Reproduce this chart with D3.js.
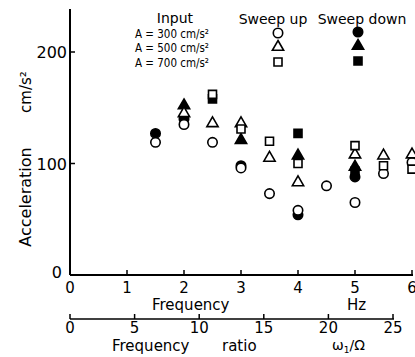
<!DOCTYPE html>
<html>
<head>
<meta charset="utf-8">
<script src="https://cdn.jsdelivr.net/npm/d3@7"></script>
<style>
  body { margin: 0; background: #fff; }
  svg { display: block; font-family: 'DejaVu Sans', sans-serif; }
</style>
</head>
<body>
<div id="chart"></div>
<script>
// frequency (Hz) and acceleration (cm/s2)
var up300 = [[1.5, 119], [2, 135], [2.5, 119], [3, 96], [3.5, 73], [4, 58], [4.5, 80], [5, 65], [5.5, 91], [6, 101]]
var up500 = [[2, 145], [2.5, 136], [3, 136], [3.5, 105], [4, 83], [5, 108], [5.5, 107], [6, 108]]
var up700 = [[2.5, 162], [3, 131], [3.5, 120], [4, 100], [5, 116], [5.5, 98], [6, 95]]
var down300 = [[1.5, 127], [2, 140], [3, 98], [4, 54], [5, 88]]
var down500 = [[2, 152], [3, 121], [4, 107], [5, 97]]
var down700 = [[2.5, 158], [4, 127], [5, 93]]

var freqTicks = [0, 1, 2, 3, 4, 5, 6]
var accTicks = [0, 100, 200]
var ratioTicks = [0, 5, 10, 15, 20, 25]
var inputLabels = ['A = 300 cm/s²', 'A = 500 cm/s²', 'A = 700 cm/s²']

var width = 415
var height = 357

var svg = d3
  .select('#chart')
  .append('svg')
  .attr('width', width)
  .attr('height', height)

var x = d3.scaleLinear().domain([0, 6]).range([70, 412])
var y = d3.scaleLinear().domain([0, 200]).range([275, 52])
var xr = d3.scaleLinear().domain([0, 25]).range([70, 393])

// axes
var axisColor = '#000'
svg
  .append('line')
  .attr('x1', x(0)).attr('x2', x(0))
  .attr('y1', y(0)).attr('y2', 9)
  .attr('stroke', axisColor).attr('stroke-width', 2)

svg
  .append('line')
  .attr('x1', x(0)).attr('x2', x(6) + 1)
  .attr('y1', y(0)).attr('y2', y(0))
  .attr('stroke', axisColor).attr('stroke-width', 2)

svg
  .selectAll('.ytick')
  .data(accTicks.slice(1))
  .enter()
  .append('line')
  .attr('class', 'ytick')
  .attr('x1', x(0) - 1).attr('x2', x(0) + 5)
  .attr('y1', function (d) { return y(d) })
  .attr('y2', function (d) { return y(d) })
  .attr('stroke', axisColor).attr('stroke-width', 1.5)

svg
  .selectAll('.ylab')
  .data(accTicks)
  .enter()
  .append('text')
  .attr('class', 'ylab')
  .attr('x', function (d) { return d === 0 ? 62 : 67 })
  .attr('y', function (d) { return d === 0 ? y(d) + 3 : y(d) + 6 })
  .attr('text-anchor', 'end')
  .style('font-size', '16px')
  .text(function (d) { return d })

svg
  .selectAll('.xtick')
  .data(freqTicks.slice(1))
  .enter()
  .append('line')
  .attr('class', 'xtick')
  .attr('x1', function (d) { return x(d) })
  .attr('x2', function (d) { return x(d) })
  .attr('y1', y(0)).attr('y2', y(0) - 5)
  .attr('stroke', axisColor).attr('stroke-width', 1.5)

svg
  .selectAll('.xlab')
  .data(freqTicks)
  .enter()
  .append('text')
  .attr('class', 'xlab')
  .attr('x', function (d) { return x(d) })
  .attr('y', 293)
  .attr('text-anchor', 'middle')
  .style('font-size', '15px')
  .text(function (d) { return d })

svg.append('text').attr('x', 152).attr('y', 310)
  .style('font-size', '15px').text('Frequency')
svg.append('text').attr('x', 347).attr('y', 310)
  .style('font-size', '15px').text('Hz')

// second axis: frequency ratio
svg
  .append('line')
  .attr('x1', xr(0)).attr('x2', xr(25) + 1)
  .attr('y1', 319).attr('y2', 319)
  .attr('stroke', axisColor).attr('stroke-width', 1.5)

svg
  .selectAll('.rtick')
  .data(ratioTicks)
  .enter()
  .append('line')
  .attr('class', 'rtick')
  .attr('x1', function (d) { return xr(d) })
  .attr('x2', function (d) { return xr(d) })
  .attr('y1', 319).attr('y2', 314)
  .attr('stroke', axisColor).attr('stroke-width', 1.5)

svg
  .selectAll('.rlab')
  .data(ratioTicks)
  .enter()
  .append('text')
  .attr('class', 'rlab')
  .attr('x', function (d) { return xr(d) })
  .attr('y', 333)
  .attr('text-anchor', 'middle')
  .style('font-size', '15px')
  .text(function (d) { return d })

svg.append('text').attr('x', 112).attr('y', 351)
  .style('font-size', '15px').text('Frequency')
svg.append('text').attr('x', 222).attr('y', 351)
  .style('font-size', '15px').text('ratio')
var omega = svg.append('text').attr('x', 332).attr('y', 350)
  .style('font-size', '14px')
omega.append('tspan').text('ω')
omega.append('tspan').attr('dy', 3).style('font-size', '9px').text('1')
omega.append('tspan').attr('dy', -3).text('/Ω')

// y label
svg.append('text')
  .attr('transform', 'translate(31,197) rotate(-90)')
  .attr('text-anchor', 'middle')
  .style('font-size', '16px')
  .text('Acceleration')
svg.append('text')
  .attr('transform', 'translate(31,92) rotate(-90)')
  .attr('text-anchor', 'middle')
  .style('font-size', '15px')
  .text('cm/s²')

// markers
var sym = {
  circle: d3.symbol().type(d3.symbolCircle).size(70),
  triangle: d3.symbol().type(d3.symbolTriangle).size(55),
  square: d3.symbol().type(d3.symbolSquare).size(64)
}

function drawSeries (data, shape, filled) {
  svg
    .append('g')
    .selectAll('path')
    .data(data)
    .enter()
    .append('path')
    .attr('d', sym[shape])
    .attr('transform', function (d) {
      return 'translate(' + x(d[0]) + ',' + y(d[1]) + ')'
    })
    .attr('fill', filled ? '#000' : '#fff')
    .attr('stroke', '#000')
    .attr('stroke-width', 1.6)
}

drawSeries(down300, 'circle', true)
drawSeries(down500, 'triangle', true)
drawSeries(down700, 'square', true)
drawSeries(up300, 'circle', false)
drawSeries(up500, 'triangle', false)
drawSeries(up700, 'square', false)

// legend
svg.append('text').attr('x', 175).attr('y', 23)
  .attr('text-anchor', 'middle')
  .style('font-size', '14px').text('Input')
svg.append('text').attr('x', 273).attr('y', 24)
  .attr('text-anchor', 'middle')
  .style('font-size', '14px').text('Sweep up')
svg.append('text').attr('x', 362).attr('y', 24)
  .attr('text-anchor', 'middle')
  .style('font-size', '14px').text('Sweep down')

var shapes = ['circle', 'triangle', 'square']
var legendY = [33, 47, 62]

svg
  .selectAll('.inlab')
  .data(inputLabels)
  .enter()
  .append('text')
  .attr('class', 'inlab')
  .attr('x', 135)
  .attr('y', function (d, i) { return legendY[i] + 5 })
  .attr('textLength', 74)
  .attr('lengthAdjust', 'spacingAndGlyphs')
  .style('font-size', '13px')
  .text(function (d) { return d })

shapes.forEach(function (s, i) {
  svg.append('path')
    .attr('d', sym[s])
    .attr('transform', 'translate(278,' + legendY[i] + ')')
    .attr('fill', '#fff').attr('stroke', '#000').attr('stroke-width', 1.6)
  svg.append('path')
    .attr('d', sym[s])
    .attr('transform', 'translate(358,' + (legendY[i] - 1) + ')')
    .attr('fill', '#000').attr('stroke', '#000').attr('stroke-width', 1.6)
})
</script>
</body>
</html>
